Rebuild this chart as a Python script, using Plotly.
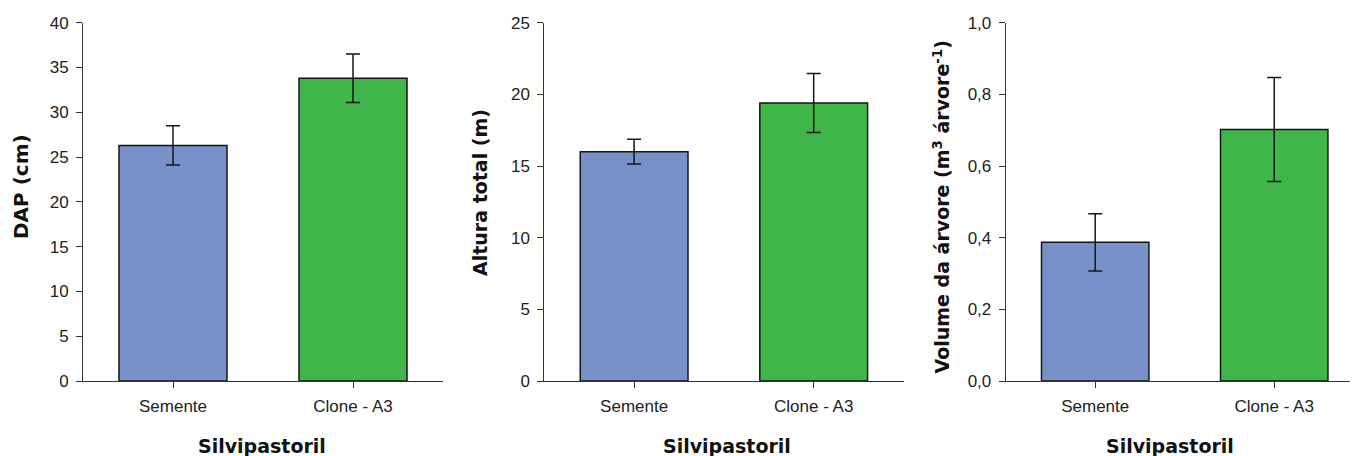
import plotly.graph_objects as go

# The page body has an 8px default margin, so the figure is drawn 8px in from
# the top-left corner; all layout positions below are given in screen pixels
# and converted to figure-paper fractions.
OFF = 8
FW, FH = 1350, 448


def fx(px):
    return (px - OFF) / FW


def fy(py):
    return 1 - (py - OFF) / FH


categories = ["Semente", "Clone - A3"]

dap_values = [26.3, 33.8]
dap_errors = [2.2, 2.7]

altura_values = [16.0, 19.4]
altura_errors = [0.86, 2.06]

volume_values = [0.387, 0.702]
volume_errors = [0.080, 0.145]

bar_colors = ["#7892C9", "#40B54A"]

y_titles = ["DAP (cm)", "Altura total (m)", "Volume da árvore (m<sup>3</sup> árvore<sup>-1</sup>)"]
x_title = "Silvipastoril"

y_ranges = [[0, 40], [0, 25], [0, 1.0]]
y_dticks = [5, 5, 0.2]
y_formats = ["d", "d", ".1f"]

x_domains = [[fx(83), fx(443)], [fx(544.3), fx(903.5)], [fx(1005.7), 1.0]]
x_ranges = [[-0.5, 1.5], [-0.5, 1.5], [-0.5, 1.468]]
y_domain = [fy(381), fy(22.7)]

series = [(dap_values, dap_errors), (altura_values, altura_errors), (volume_values, volume_errors)]

fig = go.Figure()
for i, (vals, errs) in enumerate(series):
    sfx = "" if i == 0 else str(i + 1)
    fig.add_trace(go.Bar(
        x=categories, y=vals,
        xaxis="x" + sfx, yaxis="y" + sfx,
        marker=dict(color=bar_colors, line=dict(color="#151515", width=1.5)),
        width=0.6,
        error_y=dict(type="data", array=errs, visible=True, color="#151515",
                     thickness=1.5, width=7),
        showlegend=False,
    ))

tick_font = dict(family="Liberation Sans, Arial, sans-serif", size=17, color="#222222")
layout = dict(
    width=FW, height=FH,
    margin=dict(l=0, r=0, t=0, b=0, autoexpand=False),
    paper_bgcolor="white", plot_bgcolor="white",
    separators=",.",
    bargap=0.4,
)
for i in range(3):
    sfx = "" if i == 0 else str(i + 1)
    layout["xaxis" + sfx] = dict(
        domain=x_domains[i], range=x_ranges[i], anchor="y" + sfx,
        showline=True, linecolor="#333333", linewidth=1,
        ticks="outside", ticklen=6, tickcolor="#333333", tickwidth=1,
        ticklabelstandoff=4,
        showgrid=False, zeroline=False, tickfont=tick_font, fixedrange=True,
        automargin=False,
    )
    layout["yaxis" + sfx] = dict(
        domain=y_domain, range=y_ranges[i], anchor="x" + sfx,
        dtick=y_dticks[i], tick0=0, tickformat=y_formats[i],
        showline=True, linecolor="#333333", linewidth=1,
        ticks="outside", ticklen=6, tickcolor="#333333", tickwidth=1,
        ticklabelstandoff=4,
        showgrid=False, zeroline=False, tickfont=tick_font, fixedrange=True,
        automargin=False,
    )

ytitle_sizes = [20, 19, 19]
xtitle_font = dict(family="DejaVu Sans, sans-serif", size=19, color="#111111")
ytitle_pos = [(21, 187), (480, 193), (941, 207.5)]
xtitle_pos = [262, 727, 1170]
annotations = []
for i in range(3):
    px, py = ytitle_pos[i]
    annotations.append(dict(
        text="<b>" + y_titles[i] + "</b>", xref="paper", yref="paper",
        x=fx(px), y=fy(py), xanchor="center", yanchor="middle",
        textangle=-90, showarrow=False,
        font=dict(family="DejaVu Sans, sans-serif", size=ytitle_sizes[i], color="#111111"),
    ))
    annotations.append(dict(
        text="<b>" + x_title + "</b>", xref="paper", yref="paper",
        x=fx(xtitle_pos[i]), y=fy(446), xanchor="center", yanchor="middle",
        showarrow=False, font=xtitle_font,
    ))
layout["annotations"] = annotations

fig.update_layout(**layout)
fig.write_html("out.html")
